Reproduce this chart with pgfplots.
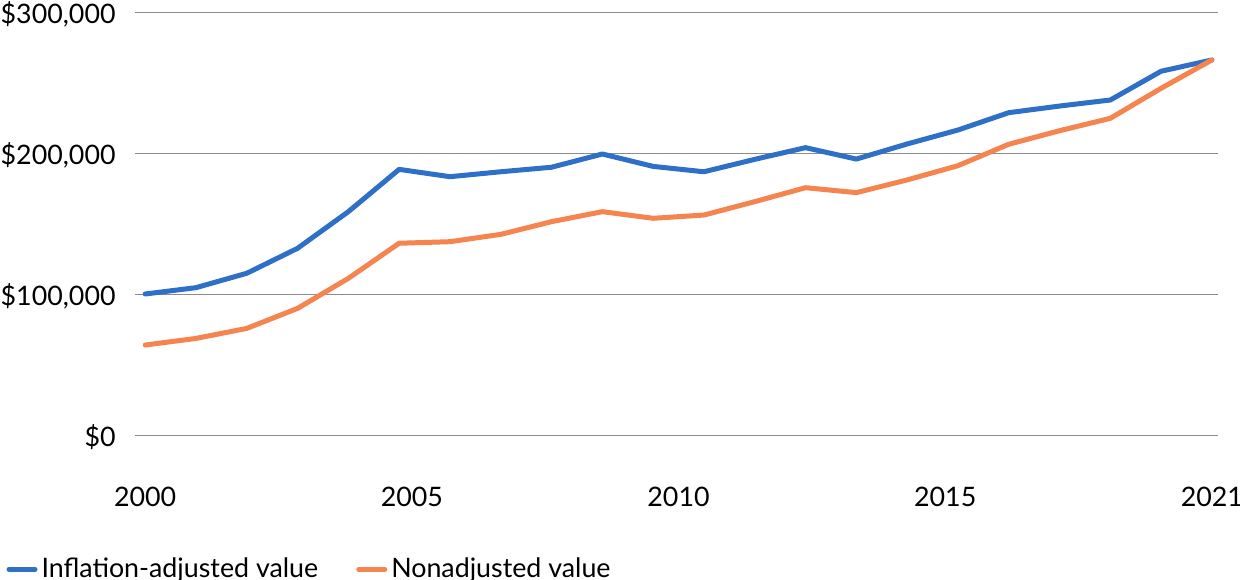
\documentclass[border=0pt]{standalone}
\usepackage{fontspec}
\setmainfont{Lato}
\usepackage{pgfplots}
\pgfplotsset{compat=1.18}
\definecolor{cblue}{HTML}{2E6FC8}
\definecolor{corange}{HTML}{F5844F}
\definecolor{cgrid}{HTML}{8C8C8C}
\begin{document}
\begin{tikzpicture}
\begin{axis}[
  scale only axis,
  width=541.5pt, height=211.5pt,
  xmin=-0.2, xmax=21.12,
  ymin=0, ymax=300000,
  scaled y ticks=false,
  scaled x ticks=false,
  axis line style={draw=none},
  major tick length=0pt,
  ymajorgrids,
  grid style={cgrid, line width=0.5pt},
  ytick={0,100000,200000,300000},
  yticklabels={{\$0},{\$100,000},{\$200,000},{\$300,000}},
  xtick={0,5.25,10.5,15.75,21},
  xticklabels={2000,2005,2010,2015,2021},
  tick label style={font=\fontsize{13.4}{15}\selectfont},
  yticklabel style={anchor=east, inner sep=0pt, xshift=-9.5pt, yshift=-1.2pt},
  xticklabel style={anchor=north, inner sep=0pt, yshift=-26pt},
  legend columns=2,
  legend cell align=left,
  legend style={draw=none, fill=none, at={(-0.119,-0.28)}, anchor=north west,
    inner sep=0pt, font=\fontsize{13.4}{15}\selectfont,
    /tikz/every even column/.append style={column sep=17pt}},
  legend image code/.code={\draw[#1, line cap=round] (0pt,0pt) -- (13pt,0pt);},
  every axis plot/.append style={line width=2.5pt, line join=round, line cap=round},
]
\addplot[cblue] coordinates {
(0,100000) (1,104500) (2,114700) (3,132400) (4,158400) (5,188400) (6,183200)
(7,186700) (8,189900) (9,199300) (10,190500) (11,186700) (12,195500) (13,203800)
(14,195700) (15,206400) (16,216300) (17,228600) (18,233300) (19,237600) (20,258000) (21,266000)};
\addlegendentry{Inflation-adjusted value}
\addplot[corange] coordinates {
(0,63800) (1,68500) (2,75600) (3,89800) (4,111100) (5,136000) (6,137100)
(7,142300) (8,151300) (9,158400) (10,153700) (11,156000) (12,165500) (13,175400)
(14,171900) (15,180900) (16,191000) (17,206200) (18,215800) (19,224600) (20,245900) (21,266000)};
\addlegendentry{Nonadjusted value}
\end{axis}
\pgfresetboundingbox
\path (-67.5pt,-72pt) rectangle (552.5pt,217.5pt);
\end{tikzpicture}
\end{document}
